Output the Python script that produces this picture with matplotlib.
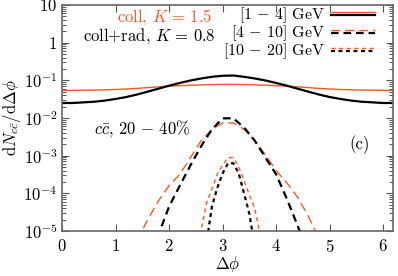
import numpy as np
import matplotlib
matplotlib.use('Agg')
import matplotlib.pyplot as plt
from matplotlib.lines import Line2D
from matplotlib.legend_handler import HandlerBase
from matplotlib.ticker import FuncFormatter, LogLocator, FixedLocator

# Delta phi grids
phi_wide = [0.0, 0.2, 0.4, 0.6, 0.8, 1.0, 1.2, 1.4, 1.6, 1.8, 2.0, 2.2, 2.4, 2.6, 2.8, 3.0,
            3.2, 3.4, 3.6, 3.8, 4.0, 4.2, 4.4, 4.6, 4.8, 5.0, 5.2, 5.4, 5.6, 5.8, 6.0, 6.2]

# [1-4] GeV
coll_low = [0.054, 0.054, 0.055, 0.055, 0.056, 0.057, 0.059, 0.061, 0.064, 0.067, 0.070, 0.072,
            0.074, 0.076, 0.077, 0.078, 0.078, 0.077, 0.076, 0.074, 0.072, 0.070, 0.067, 0.064,
            0.061, 0.059, 0.057, 0.056, 0.055, 0.055, 0.054, 0.054]
rad_low = [0.025, 0.025, 0.026, 0.027, 0.029, 0.032, 0.036, 0.042, 0.050, 0.060, 0.072, 0.085,
           0.099, 0.112, 0.124, 0.132, 0.134, 0.124, 0.112, 0.099, 0.085, 0.072, 0.060, 0.050,
           0.042, 0.036, 0.032, 0.029, 0.027, 0.026, 0.025, 0.025]

# [4-10] GeV
phi_mid_coll = [1.4, 1.6, 1.8, 2.0, 2.2, 2.4, 2.6, 2.8, 3.0, 3.2, 3.4, 3.6, 3.8, 4.0, 4.2, 4.4, 4.6, 4.8]
coll_mid = [5.6e-6, 2.0e-5, 6.3e-5, 1.6e-4, 3.2e-4, 8.9e-4, 2.5e-3, 5.0e-3, 7.4e-3,
            7.4e-3, 5.0e-3, 2.5e-3, 1.05e-3, 4.0e-4, 1.9e-4, 7.9e-5, 2.5e-5, 6.3e-6]
phi_mid_rad = [1.6, 1.8, 2.0, 2.2, 2.4, 2.6, 2.8, 3.0, 3.2, 3.4, 3.6, 3.8, 4.0, 4.2, 4.4, 4.6]
rad_mid = [1.6e-6, 7.9e-6, 4.5e-5, 1.6e-4, 5.6e-4, 1.8e-3, 5.0e-3, 9.8e-3,
           9.8e-3, 5.6e-3, 2.5e-3, 8.9e-4, 3.2e-4, 7.1e-5, 1.4e-5, 2.5e-6]

# [10-20] GeV
phi_high_coll = [2.5, 2.6, 2.7, 2.8, 2.9, 3.0, 3.1, 3.2, 3.3, 3.4, 3.5, 3.6, 3.7, 3.8]
coll_high = [3.2e-6, 1.1e-5, 5.6e-5, 1.3e-4, 3.2e-4, 5.6e-4, 8.9e-4,
             8.9e-4, 5.0e-4, 2.2e-4, 8.9e-5, 4.0e-5, 7.9e-6, 3.2e-6]
phi_high_rad = [2.6, 2.7, 2.8, 2.9, 3.0, 3.1, 3.2, 3.3, 3.4, 3.5, 3.6, 3.7]
rad_high = [6.3e-7, 5.0e-6, 4.5e-5, 1.4e-4, 3.4e-4, 6.3e-4,
            6.3e-4, 3.4e-4, 1.0e-4, 2.8e-5, 4.0e-6, 5.0e-7]

bin_labels = [r'$[1\,-\,4]$ GeV', r'$[4\,-\,10]$ GeV', r'$[10\,-\,20]$ GeV']

ORANGE = '#ff5625'
FS = 12

plt.rcParams['mathtext.fontset'] = 'cm'
plt.rcParams['font.family'] = ['cmr10', 'DejaVu Serif']
plt.rcParams['axes.unicode_minus'] = False
plt.rcParams['lines.scale_dashes'] = False


class StackHandler(HandlerBase):
    # orange line above black line in one legend handle
    def create_artists(self, legend, orig_handle, xdescent, ydescent, width, height, fontsize, trans):
        top, bottom = orig_handle
        arts = []
        for h, frac in ((top, 0.66), (bottom, 0.40)):
            ln = Line2D([-xdescent, width - xdescent], [frac * height - ydescent] * 2)
            ln.update_from(h)
            ln.set_transform(trans)
            arts.append(ln)
        return arts


fig = plt.figure(figsize=(3.98, 2.76), dpi=100)
ax = fig.add_axes([0.156, 0.163, 0.831, 0.819])

sty_solid_o = dict(color=ORANGE, lw=1.0, ls='-')
sty_solid_k = dict(color='black', lw=1.6, ls='-')
sty_dash_o = dict(color=ORANGE, lw=1.0, dashes=(6.5, 3.5))
sty_dash_k = dict(color='black', lw=1.6, dashes=(5.5, 3.5))
sty_dot_o = dict(color=ORANGE, lw=1.0, dashes=(3.0, 2.5))
sty_dot_k = dict(color='black', lw=1.6, dashes=(2.8, 2.6))

l1o, = ax.plot(phi_wide, coll_low, **sty_solid_o)
l1k, = ax.plot(phi_wide, rad_low, **sty_solid_k)
l2o, = ax.plot(phi_mid_coll, coll_mid, **sty_dash_o)
l2k, = ax.plot(phi_mid_rad, rad_mid, **sty_dash_k)
l3o, = ax.plot(phi_high_coll, coll_high, **sty_dot_o)
l3k, = ax.plot(phi_high_rad, rad_high, **sty_dot_k)

ax.set_yscale('log')
ax.set_xlim(0, 6.18)
ax.set_ylim(1e-5, 10)

ax.xaxis.set_major_locator(FixedLocator([0, 1, 2, 3, 4, 5, 6]))
ax.xaxis.set_major_formatter(FuncFormatter(lambda v, p: '$%d$' % v))
ax.yaxis.set_major_locator(LogLocator(base=10, numticks=10))
ax.yaxis.set_minor_locator(LogLocator(base=10, subs=np.arange(2, 10), numticks=20))


def yfmt(v, p):
    e = int(round(np.log10(v)))
    if e == 0:
        return '$1$'
    if e == 1:
        return '$10$'
    return '$10^{%d}$' % e


ax.yaxis.set_major_formatter(FuncFormatter(yfmt))
ax.yaxis.set_minor_formatter(FuncFormatter(lambda v, p: ''))

ax.tick_params(which='both', direction='in', top=True, right=True, labelsize=FS, color='#555555')
ax.tick_params(which='major', length=5, width=0.8)
ax.tick_params(which='minor', length=2.8, width=0.7)
ax.tick_params(axis='x', pad=5)
for s in ax.spines.values():
    s.set_color('#666666')
    s.set_linewidth(1.2)

ax.set_xlabel(r'$\Delta\phi$', fontsize=FS, labelpad=-1)
ax.set_ylabel(r'$\mathrm{d}N_{c\bar{c}}/\mathrm{d}\Delta\phi$', fontsize=FS, labelpad=0)

ax.text(0.165, 0.948, r'coll, $K\,=\,1.5$', transform=ax.transAxes, color=ORANGE, fontsize=FS,
        ha='left', va='center')
ax.text(0.063, 0.862, r'coll+rad, $K\,=\,0.8$', transform=ax.transAxes, color='black', fontsize=FS,
        ha='left', va='center')
ax.text(0.095, 0.455, r'$c\bar{c}$, $20\,-\,40\%$', transform=ax.transAxes, fontsize=FS,
        ha='left', va='center')
ax.text(0.87, 0.38, '(c)', transform=ax.transAxes, fontsize=FS, ha='left', va='center')

handles = [(l1o, l1k), (l2o, l2k), (l3o, l3k)]
ax.legend(handles, bin_labels, handler_map={tuple: StackHandler()}, loc='upper right',
          frameon=False, markerfirst=False, fontsize=11.5, handlelength=2.8,
          handletextpad=0.35, labelspacing=-0.12, borderpad=0.05, borderaxespad=0.0,
          bbox_to_anchor=(0.95, 1.0))

fig.savefig('out.png', dpi=100)
